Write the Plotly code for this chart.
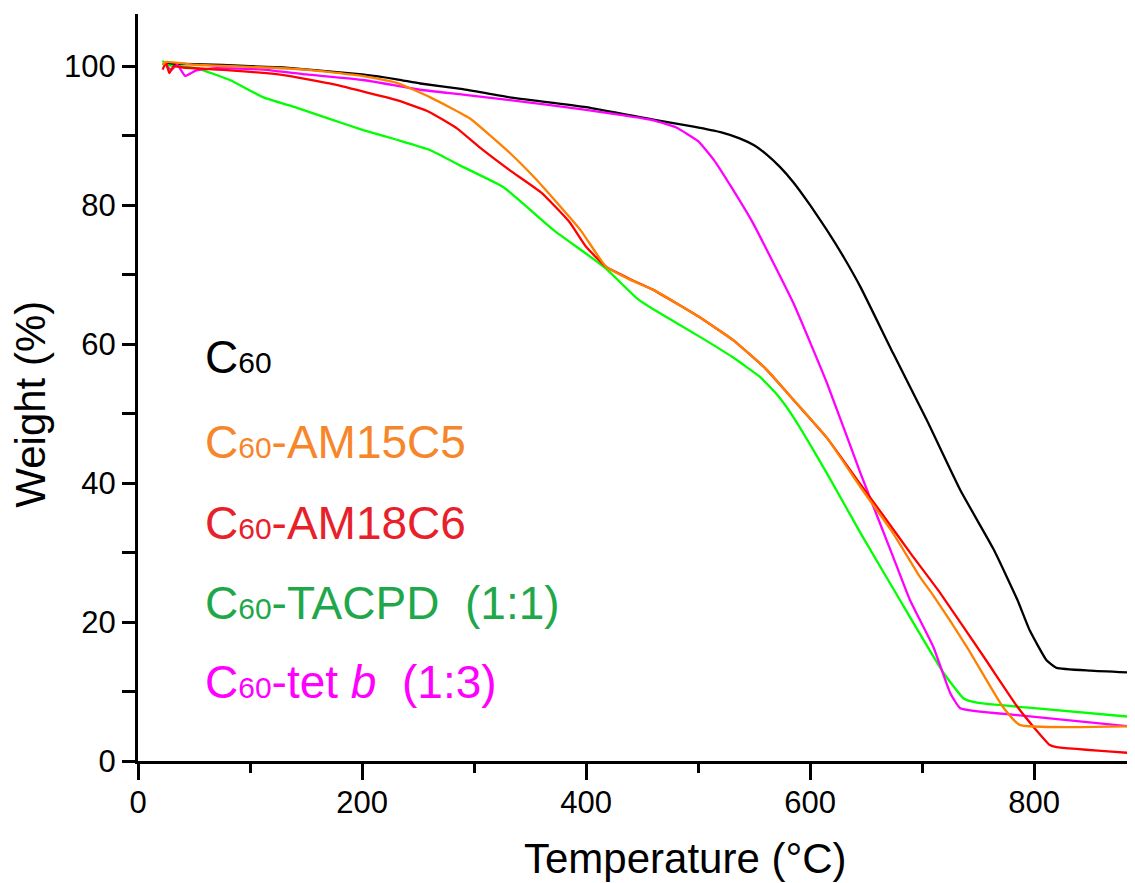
import plotly.graph_objects as go

# TGA curves: temperature (°C) and weight (%)
c60_t = [22, 50, 100, 129, 160, 200, 231, 252, 290, 332, 400, 460, 496, 520, 537, 550, 561, 573, 585, 600, 615, 630, 645, 674, 704, 734, 764, 785, 796, 811, 820, 850, 890]
c60_w = [100.3, 100.3, 100.0, 99.8, 99.4, 98.8, 98.1, 97.5, 96.7, 95.5, 94.1, 92.3, 91.3, 90.5, 89.6, 88.6, 87.3, 85.5, 83.3, 80.0, 76.4, 72.5, 68.2, 58.7, 49.1, 39.0, 30.4, 23.2, 18.8, 14.5, 13.4, 13.0, 12.7]

am15_t = [22, 25, 50, 100, 150, 200, 231, 261, 296, 332, 356, 395, 418, 440, 460, 500, 531, 560, 585, 615, 645, 674, 698, 710, 740, 772, 787, 890]
am15_w = [100.2, 100.6, 100.2, 99.9, 99.5, 98.6, 97.6, 95.5, 92.5, 87.5, 83.6, 76.4, 71.1, 69.2, 67.8, 64.0, 60.6, 56.5, 52.0, 46.5, 39.4, 32.8, 26.5, 23.8, 16.4, 7.8, 5.2, 5.0]

am18_t = [22, 25, 28, 32, 40, 82, 130, 171, 231, 260, 285, 305, 332, 360, 385, 400, 418, 440, 460, 500, 531, 560, 585, 615, 645, 660, 690, 716, 755, 785, 800, 814, 820, 890]
am18_w = [99.5, 100.5, 99.0, 100.0, 99.8, 99.4, 98.7, 97.5, 95.1, 93.4, 91.0, 88.3, 85.0, 81.8, 77.6, 74.0, 71.1, 69.3, 67.8, 64.0, 60.6, 56.5, 52.0, 46.5, 39.8, 36.5, 29.8, 24.2, 15.0, 7.8, 4.8, 2.3, 2.0, 1.1]

tacpd_t = [22, 25, 52, 82, 112, 142, 171, 201, 231, 261, 290, 326, 371, 416, 446, 460, 502, 530, 555, 570, 585, 615, 645, 680, 719, 737, 749, 800, 890]
tacpd_w = [100.8, 100.2, 99.7, 98.0, 95.5, 94.0, 92.4, 90.8, 89.4, 87.9, 85.5, 82.6, 76.4, 71.1, 66.5, 65.0, 61.0, 58.2, 55.3, 52.8, 49.5, 41.4, 32.8, 23.2, 12.7, 9.0, 8.4, 7.6, 6.3]

tetb_t = [25, 30, 35, 42, 52, 70, 112, 150, 201, 252, 290, 332, 400, 460, 480, 500, 514, 530, 549, 585, 615, 645, 674, 689, 710, 725, 734, 785, 890]
tetb_w = [100.0, 99.5, 100.2, 98.6, 99.4, 99.7, 99.5, 98.8, 98.0, 96.6, 95.9, 95.1, 93.7, 92.2, 91.2, 89.2, 86.5, 82.5, 77.4, 65.9, 54.4, 41.4, 29.4, 23.2, 16.4, 9.8, 7.6, 6.6, 4.9]

# inline labels
label_text = ["C", "C", "C", "C", "C"]
label_rest = ["", "-AM15C5", "-AM18C6", "-TACPD\u00a0\u00a0(1:1)", "-tet <i>b</i>\u00a0\u00a0(1:3)"]
label_colors = ["#000000", "#F7862B", "#E8202A", "#1FA84A", "#FF00FF"]
label_y = [58.1, 45.9, 34.2, 22.7, 11.4]

fig = go.Figure()

series = [
    (c60_t, c60_w, "#000000"),
    (tacpd_t, tacpd_w, "#00FF00"),
    (tetb_t, tetb_w, "#FF00FF"),
    (am18_t, am18_w, "#FF0000"),
    (am15_t, am15_w, "#FF8000"),
]
for t, w, col in series:
    fig.add_trace(go.Scatter(x=t, y=w, mode="lines", showlegend=False,
                             line=dict(color=col, width=2.3, shape="spline", smoothing=0.4)))

for head, rest, col, yv in zip(label_text, label_rest, label_colors, label_y):
    fig.add_annotation(x=58, y=yv, xref="x", yref="y", xanchor="left", yanchor="middle",
                       text=head + "<span style='font-size:30px'>60</span>" + rest,
                       showarrow=False, font=dict(size=46, color=col))

# axis titles as annotations so they sit where the original has them
fig.add_annotation(x=0.549, y=0, xref="paper", yref="paper", yshift=-97, yanchor="middle",
                   text="Temperature (°C)", showarrow=False, font=dict(size=42, color="black"))
fig.add_annotation(x=0, y=0.477, xref="paper", yref="paper", xshift=-107, xanchor="center",
                   text="Weight (%)", textangle=-90, showarrow=False, font=dict(size=42, color="black"))

# page has an 8px body margin, so the figure is 8px smaller than the window
fig.update_layout(
    width=1127, height=875,
    margin=dict(l=130, r=0, t=6, b=122),
    plot_bgcolor="white", paper_bgcolor="white",
    font=dict(family="Arial, Liberation Sans, sans-serif", color="black"),
)
fig.update_xaxes(range=[0, 890], tick0=0, dtick=200, showgrid=False, zeroline=False, automargin=False,
                 showline=True, linecolor="black", linewidth=3,
                 ticks="outside", ticklen=16, tickwidth=3, tickcolor="black",
                 tickfont=dict(size=31), ticklabelstandoff=-4,
                 minor=dict(dtick=100, ticks="outside", ticklen=9, tickwidth=3, tickcolor="black"))
fig.update_yaxes(range=[0, 107.5], tick0=0, dtick=20, showgrid=False, zeroline=False, automargin=False,
                 showline=True, linecolor="black", linewidth=3,
                 ticks="outside", ticklen=13, tickwidth=3, tickcolor="black",
                 tickfont=dict(size=31), ticklabelstandoff=0,
                 minor=dict(dtick=10, ticks="outside", ticklen=13, tickwidth=3, tickcolor="black"))

fig.write_html("out.html")
